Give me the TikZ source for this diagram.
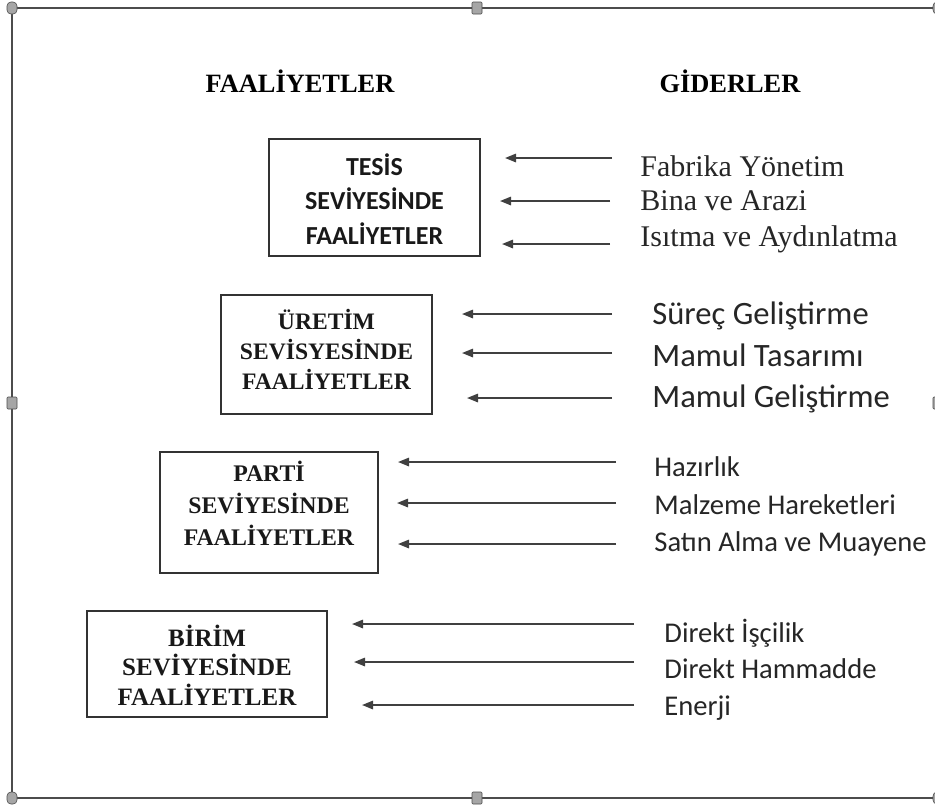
\documentclass[tikz,border=0pt]{standalone}
\usepackage{fontspec}
\setmainfont{Liberation Serif}
\newfontfamily\calibri{Carlito}
\usetikzlibrary{arrows.meta}
\tikzset{
 kutu/.style={draw=black!80,line width=0.75pt,inner sep=0pt},
 yazi/.style={align=center,inner sep=0pt,text=black!90},
 ok/.style={draw=black!75,line width=0.9pt,-{Triangle[length=5.5pt,width=4.2pt]}},
 tutamak/.style={fill=gray!70,draw=gray!60!black,line width=0.3pt},
 gider/.style={anchor=base west,inner sep=0pt,text=black!85},
 baslik/.style={anchor=base,inner sep=0pt,font=\bfseries\fontsize{13.2}{15}\selectfont}
}
\begin{document}
\begin{tikzpicture}[x=0.5pt,y=-0.5pt]
 \useasboundingbox (0,0) rectangle (935,805);
 \draw[gray!60!black,line width=1pt](945,8)--(12,8)--(12,798)--(945,798);
 \foreach \hx/\hy/\hr in {12/8/4,477/8/1,938/8/4,12/403/1,938/403/1,12/798/4,477/798/1,938/798/4}
  \filldraw[tutamak,rounded corners=\hr*0.5pt](\hx-5,\hy-6) rectangle (\hx+5,\hy+6);

 \node[baslik] (faal) at (300,92) {FAALİYETLER};
 \node[baslik] (gid) at (730,92) {GİDERLER};

 \node[kutu,minimum width=105.5pt,minimum height=58.5pt] (tesis) at (374.5,197.5) {};
 \node[yazi,font=\calibri\bfseries\fontsize{13}{17.25}\selectfont] (tesisy) at (374.5,199) {TESİS\\SEVİYESİNDE\\FAALİYETLER};
 \node[kutu,minimum width=105.5pt,minimum height=59.5pt] (uretim) at (326.5,354.5) {};
 \node[yazi,font=\bfseries\fontsize{11.8}{15}\selectfont] (uretimy) at (326.5,349) {ÜRETİM\\SEVİSYESİNDE\\FAALİYETLER};
 \node[kutu,minimum width=109pt,minimum height=60.5pt] (parti) at (269,512.5) {};
 \node[yazi,font=\bfseries\fontsize{11.9}{16}\selectfont] (partiy) at (269,503) {PARTİ\\SEVİYESİNDE\\FAALİYETLER};
 \node[kutu,minimum width=120pt,minimum height=53pt] (birim) at (207,664) {};
 \node[yazi,font=\bfseries\fontsize{12.5}{14.75}\selectfont] (birimy) at (207,665) {BİRİM\\SEVİYESİNDE\\FAALİYETLER};

 \node[gider,font=\fontsize{15}{18}\selectfont] (g1) at (640,176) {Fabrika Yönetim};
 \node[gider,font=\fontsize{15}{18}\selectfont] (g2) at (640,210) {Bina ve Arazi};
 \node[gider,font=\fontsize{15}{18}\selectfont] (g3) at (640,246) {Isıtma ve Aydınlatma};
 \node[gider,font=\calibri\fontsize{16.3}{19}\selectfont] (g4) at (652,324) {Süreç Geliştirme};
 \node[gider,font=\calibri\fontsize{16.3}{19}\selectfont] (g5) at (652,366) {Mamul Tasarımı};
 \node[gider,font=\calibri\fontsize{16.3}{19}\selectfont] (g6) at (652,407) {Mamul Geliştirme};
 \node[gider,font=\calibri\fontsize{14.3}{17}\selectfont] (g7) at (654,476) {Hazırlık};
 \node[gider,font=\calibri\fontsize{14.3}{17}\selectfont] (g8) at (654,514) {Malzeme Hareketleri};
 \node[gider,font=\calibri\fontsize{14.3}{17}\selectfont] (g9) at (654,551) {Satın Alma ve Muayene};
 \node[gider,font=\calibri\fontsize{14.3}{17}\selectfont] (g10) at (664,642) {Direkt İşçilik};
 \node[gider,font=\calibri\fontsize{14.3}{17}\selectfont] (g11) at (664,678) {Direkt Hammadde};
 \node[gider,font=\calibri\fontsize{14.3}{17}\selectfont] (g12) at (664,715) {Enerji};

 \foreach \i/\xs/\xe/\y in {1/612/505/158,2/610/500/201,3/610/502/244,4/612/462/314,5/612/462/353,6/612/467/398,7/616/398/462,8/616/397/503,9/616/398/544,10/634/352/624,11/634/354/662,12/634/362/705}
 {
  \coordinate (b\i) at (\xs,\y);
  \coordinate (s\i) at (\xe,\y);
  \draw[ok](b\i)--(s\i);
 }
\end{tikzpicture}
\end{document}
